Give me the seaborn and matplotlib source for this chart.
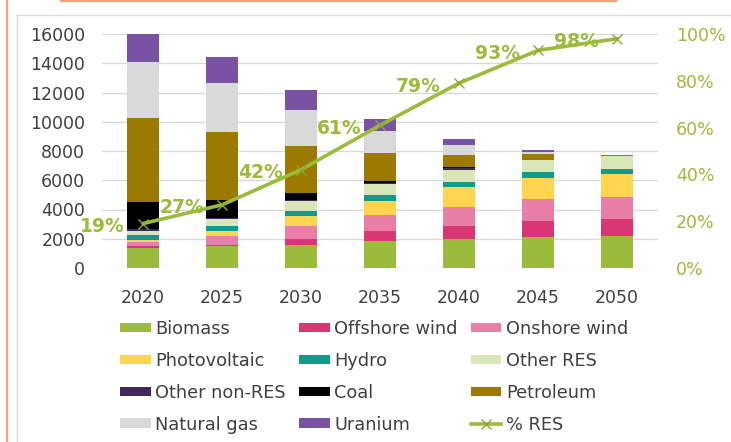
import numpy as np
import matplotlib
matplotlib.use("Agg")
import matplotlib.pyplot as plt
import seaborn as sns
from matplotlib.ticker import PercentFormatter
from matplotlib.lines import Line2D

years = ["2020", "2025", "2030", "2035", "2040", "2045", "2050"]

biomass = [1400, 1480, 1600, 1820, 2000, 2100, 2170]
offshore_wind = [110, 110, 410, 680, 890, 1140, 1210]
onshore_wind = [300, 620, 890, 1140, 1280, 1500, 1480]
photovoltaic = [110, 300, 640, 910, 1350, 1410, 1570]
hydro = [340, 390, 390, 410, 340, 390, 340]
other_res = [270, 460, 640, 780, 870, 870, 870]
other_non_res = [140, 70, 50, 70, 110, 0, 0]
coal = [1820, 1190, 520, 110, 40, 0, 0]
petroleum = [5790, 4670, 3190, 1940, 870, 410, 70]
natural_gas = [3830, 3370, 2440, 1480, 680, 90, 0]
uranium = [1890, 1760, 1370, 870, 410, 180, 0]

res_share = [0.19, 0.27, 0.42, 0.61, 0.79, 0.93, 0.98]
res_labels = ["19%", "27%", "42%", "61%", "79%", "93%", "98%"]

series_names = ["Biomass", "Offshore wind", "Onshore wind", "Photovoltaic", "Hydro",
                "Other RES", "Other non-RES", "Coal", "Petroleum", "Natural gas", "Uranium"]
series_values = [biomass, offshore_wind, onshore_wind, photovoltaic, hydro, other_res,
                 other_non_res, coal, petroleum, natural_gas, uranium]
series_colors = ["#9BBB3B", "#D93673", "#E97FA7", "#FFD54F", "#11998A", "#D8E6B8",
                 "#3F2B5B", "#000000", "#9C7A00", "#D9D9D9", "#7A52A4"]
line_color = "#9BBB3B"
text_color = "#404040"

plt.rcParams['font.family'] = ['DejaVu Sans']

fig = plt.figure(figsize=(7.31, 4.42), dpi=100)
ax = fig.add_axes([102 / 731, 1 - 268 / 442, (658 - 102) / 731, (268 - 34) / 442])

bottom = np.zeros(len(years))
for name, vals, col in zip(series_names, series_values, series_colors):
    sns.barplot(x=years, y=vals, bottom=bottom, color=col, width=0.4, saturation=1,
                errorbar=None, label=name, linewidth=0, ax=ax)
    bottom = bottom + np.array(vals)

ax.set_ylim(0, 16000)
ax.set_yticks(np.arange(0, 16001, 2000))
ax.set_xlim(-0.52, len(years) - 1 + 0.52)
ax.set_axisbelow(True)
ax.yaxis.grid(True, color="#D9D9D9", linewidth=1)
ax.xaxis.grid(False)
for s in ax.spines.values():
    s.set_visible(False)
ax.tick_params(axis="y", length=0, pad=12, labelsize=12.5, labelcolor=text_color)
ax.tick_params(axis="x", length=0, pad=15, labelsize=12.5, labelcolor=text_color)
ax.set_xlabel("")
ax.set_ylabel("")

ax2 = ax.twinx()
xpos = np.arange(len(years))
sns.lineplot(x=xpos, y=res_share, ax=ax2, color=line_color, linewidth=2.6,
             marker="x", markersize=7, markeredgewidth=1.0, markeredgecolor="#8AAA30",
             label="% RES")
ax2.set_ylim(0, 1)
ax2.set_yticks(np.linspace(0, 1, 6))
ax2.yaxis.set_major_formatter(PercentFormatter(1.0, decimals=0))
ax2.tick_params(axis="y", length=0, pad=13, labelsize=12.5, labelcolor=line_color)
for s in ax2.spines.values():
    s.set_visible(False)
ax2.set_xlim(ax.get_xlim())
ax2.set_ylabel("")

for xp, yv, lab in zip(xpos, res_share, res_labels):
    ax2.annotate(lab, (xp, yv), xytext=(-18, -3), textcoords="offset pixels",
                 ha="right", va="center", fontsize=13.5, fontweight="bold",
                 color=line_color)

h1, l1 = ax.get_legend_handles_labels()
h2, l2 = ax2.get_legend_handles_labels()
if ax.get_legend() is not None:
    ax.get_legend().remove()
if ax2.get_legend() is not None:
    ax2.get_legend().remove()
handles = h1 + h2
labels = l1 + l2
nrows, ncols = 4, 3
order = [r * ncols + c for c in range(ncols) for r in range(nrows)]
fig.legend([handles[i] for i in order], [labels[i] for i in order], ncol=3,
           loc="upper left", bbox_to_anchor=(120 / 731, 1 - 320 / 442),
           frameon=False, fontsize=12.8, labelcolor=text_color,
           handlelength=1.72, handleheight=0.45, handletextpad=0.25,
           columnspacing=0.75, labelspacing=0.78, borderpad=0, borderaxespad=0)

# decorative frame lines
fig.add_artist(Line2D([6.5 / 731, 6.5 / 731], [0, 1], transform=fig.transFigure,
                      color="#F4A27C", linewidth=1.6))
fig.add_artist(Line2D([61 / 731, 616 / 731], [1 - 0.8 / 442, 1 - 0.8 / 442],
                      transform=fig.transFigure, color="#F4A27C", linewidth=1.6))
fig.add_artist(Line2D([16.5 / 731, 16.5 / 731], [0, 1 - 15 / 442], transform=fig.transFigure,
                      color="#D9D9D9", linewidth=1))
fig.add_artist(Line2D([16.5 / 731, 1], [1 - 15 / 442, 1 - 15 / 442], transform=fig.transFigure,
                      color="#D9D9D9", linewidth=1))

fig.savefig("out.png", dpi=100)
